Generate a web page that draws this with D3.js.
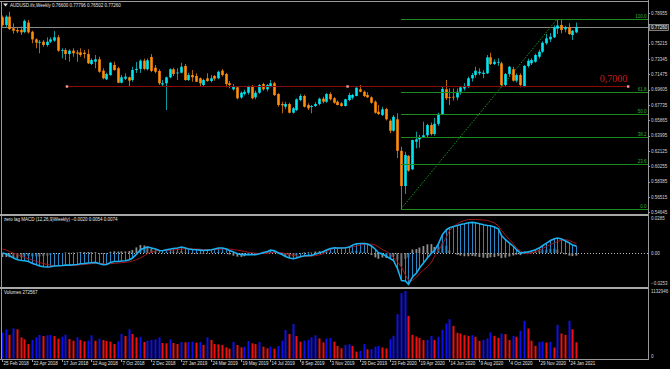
<!DOCTYPE html>
<html><head><meta charset="utf-8">
<script src="https://cdn.jsdelivr.net/npm/d3@7"></script>
<style>html,body{margin:0;padding:0;background:#000;overflow:hidden}</style>
</head><body><svg id="c" width="670" height="369"></svg>
<script>
// ---------------- DATA ----------------
const symbolTitle = "AUDUSD.ifx,Weekly";
const firstWeek = "2018-02-25";
const lastWeek = "2021-02-07";
const open = [
0.7844,0.7750,0.7852,0.7710,0.7690,0.7690,0.7665,0.7780,0.7668,0.7575,
0.7534,0.7546,0.7506,0.7546,0.7560,0.7600,0.7437,0.7445,0.7396,0.7437,
0.7415,0.7417,0.7412,0.7396,0.7274,0.7302,0.7332,0.7193,0.7088,0.7140,
0.7262,0.7222,0.7046,0.7095,0.7112,0.7079,0.7201,0.7215,0.7315,0.7210,
0.7360,0.7229,0.7189,0.7025,0.7039,0.7112,0.7210,0.7160,0.7168,0.7250,
0.7079,0.7140,0.7128,0.7100,0.7018,0.7100,0.7067,0.7128,0.7100,0.7193,
0.7152,0.7039,0.6965,0.6990,0.6865,0.6910,0.6924,0.7006,0.6868,0.6924,
0.7030,0.6966,0.7006,0.7039,0.6908,0.6786,0.6753,0.6786,0.6680,0.6713,
0.6835,0.6884,0.6774,0.6750,0.6762,0.6786,0.6851,0.6814,0.6908,0.6856,
0.6814,0.6795,0.6762,0.6835,0.6863,0.6884,0.6966,0.6936,0.6896,0.6868,
0.6814,0.6692,0.6652,0.6725,0.6583,0.6460,0.6600,0.6215,0.5786,0.6152,
0.5990,0.6326,0.6355,0.6375,0.6405,0.6530,0.6420,0.6545,0.6665,0.6966,
0.6870,0.6875,0.6865,0.6936,0.6975,0.7000,0.7100,0.7140,0.7161,0.7152,
0.7161,0.7356,0.7274,0.7290,0.7283,0.7018,0.7152,0.7210,0.7071,0.7140,
0.7006,0.7250,0.7283,0.7302,0.7363,0.7424,0.7527,0.7575,0.7600,0.7705,
0.7750,0.7697,0.7722,0.7628,0.76600];
const high = [
0.7865,0.7870,0.7912,0.7770,0.7720,0.7730,0.7815,0.7812,0.7680,0.7588,
0.7567,0.7567,0.7600,0.7600,0.7677,0.7628,0.7466,0.7466,0.7454,0.7466,
0.7445,0.7466,0.7445,0.7454,0.7344,0.7384,0.7363,0.7222,0.7168,0.7300,
0.7302,0.7240,0.7140,0.7161,0.7120,0.7241,0.7300,0.7330,0.7340,0.7340,
0.7395,0.7262,0.7210,0.7079,0.7120,0.7222,0.7229,0.7222,0.7290,0.7274,
0.7168,0.7201,0.7161,0.7110,0.7095,0.7161,0.7140,0.7140,0.7193,0.7213,
0.7165,0.7067,0.7030,0.7000,0.6940,0.6960,0.7010,0.7018,0.6949,0.7030,
0.7046,0.7030,0.7079,0.7058,0.6920,0.6814,0.6814,0.6802,0.6750,0.6855,
0.6908,0.6900,0.6795,0.6774,0.6810,0.6865,0.6875,0.6920,0.6930,0.6870,
0.6830,0.6810,0.6850,0.6924,0.6910,0.6990,0.7018,0.6950,0.6930,0.6880,
0.6830,0.6774,0.6753,0.6740,0.6600,0.6652,0.6673,0.6265,0.6204,0.6164,
0.6350,0.6448,0.6410,0.6570,0.6545,0.6560,0.6617,0.6680,0.6994,0.7079,
0.6978,0.6975,0.6976,0.7000,0.7040,0.7120,0.7165,0.7242,0.7222,0.7200,
0.7384,0.7412,0.7332,0.7344,0.7302,0.7165,0.7250,0.7240,0.7160,0.7160,
0.7262,0.7340,0.7344,0.7400,0.7450,0.7550,0.7640,0.7652,0.7745,0.7820,
0.7811,0.7740,0.7771,0.7690,0.77796];
const low = [
0.7730,0.7720,0.7690,0.7645,0.7650,0.7628,0.7650,0.7645,0.7527,0.7466,
0.7405,0.7485,0.7485,0.7530,0.7545,0.7424,0.7344,0.7323,0.7302,0.7363,
0.7302,0.7363,0.7344,0.7274,0.7262,0.7222,0.7168,0.7088,0.7079,0.7130,
0.7193,0.7040,0.7039,0.7079,0.7006,0.7058,0.7165,0.7165,0.7200,0.7195,
0.7175,0.7161,0.7018,0.7006,0.6713,0.7100,0.7128,0.7079,0.7161,0.7071,
0.7067,0.7058,0.7055,0.6997,0.7000,0.7058,0.7050,0.7070,0.7088,0.7120,
0.6990,0.6978,0.6950,0.6844,0.6850,0.6890,0.6900,0.6844,0.6844,0.6910,
0.6949,0.6940,0.6990,0.6884,0.6753,0.6673,0.6722,0.6673,0.6670,0.6700,
0.6820,0.6745,0.6713,0.6673,0.6750,0.6770,0.6795,0.6800,0.6830,0.6790,
0.6770,0.6755,0.6755,0.6820,0.6840,0.6880,0.6930,0.6870,0.6860,0.6790,
0.6670,0.6652,0.6640,0.6585,0.6429,0.6449,0.6128,0.5506,0.5688,0.5960,
0.5980,0.6246,0.6253,0.6370,0.6372,0.6402,0.6400,0.6520,0.6650,0.6835,
0.6774,0.6829,0.6833,0.6900,0.6950,0.6980,0.7060,0.7110,0.7140,0.7100,
0.7152,0.7262,0.7262,0.7250,0.6990,0.7000,0.7120,0.7060,0.7050,0.6990,
0.6990,0.7230,0.7262,0.7290,0.7340,0.7410,0.7510,0.7543,0.7590,0.7640,
0.7649,0.7660,0.7628,0.7567,0.76502];
const close = [
0.7750,0.7852,0.7701,0.7680,0.7672,0.7660,0.7800,0.7660,0.7575,0.7534,
0.7545,0.7506,0.7546,0.7575,0.7600,0.7437,0.7445,0.7396,0.7437,0.7405,
0.7400,0.7384,0.7396,0.7283,0.7323,0.7332,0.7180,0.7100,0.7152,0.7290,
0.7201,0.7046,0.7112,0.7120,0.7071,0.7201,0.7215,0.7315,0.7215,0.7320,
0.7190,0.7180,0.7039,0.7040,0.7112,0.7210,0.7152,0.7170,0.7241,0.7079,
0.7140,0.7112,0.7058,0.7039,0.7079,0.7067,0.7100,0.7095,0.7180,0.7140,
0.7030,0.7018,0.7005,0.6856,0.6925,0.6935,0.6997,0.6856,0.6924,0.7018,
0.6966,0.7018,0.7039,0.6896,0.6774,0.6770,0.6786,0.6680,0.6734,0.6844,
0.6884,0.6753,0.6734,0.6762,0.6786,0.6851,0.6814,0.6908,0.6844,0.6802,
0.6774,0.6762,0.6844,0.6896,0.6896,0.6985,0.6936,0.6884,0.6868,0.6802,
0.6680,0.6664,0.6722,0.6600,0.6460,0.6631,0.6215,0.5786,0.6164,0.5973,
0.6347,0.6355,0.6380,0.6405,0.6530,0.6420,0.6545,0.6665,0.6970,0.6856,
0.6860,0.6865,0.6936,0.6990,0.7006,0.7100,0.7140,0.7193,0.7180,0.7168,
0.7356,0.7274,0.7302,0.7300,0.7018,0.7152,0.7241,0.7071,0.7140,0.7018,
0.7250,0.7314,0.7323,0.7384,0.7424,0.7534,0.7588,0.7607,0.7720,0.7745,
0.7689,0.7722,0.7640,0.7680,0.77260];
const volume = [
434000,490000,395000,506000,490000,355000,322000,243000,311000,355000,
395000,378000,389000,395000,378000,333000,366000,400000,327000,299000,
355000,311000,288000,299000,389000,299000,333000,311000,294000,283000,
243000,288000,411000,378000,490000,411000,355000,366000,277000,299000,
311000,322000,355000,260000,255000,322000,260000,243000,277000,271000,
277000,283000,266000,277000,227000,355000,311000,243000,238000,227000,
187000,165000,277000,227000,187000,199000,294000,255000,243000,277000,
199000,171000,199000,165000,210000,299000,478000,411000,579000,378000,
283000,299000,311000,355000,389000,338000,271000,338000,344000,283000,
210000,171000,227000,238000,210000,115000,126000,243000,154000,159000,
199000,210000,185000,168000,325000,381000,744000,1097000,1132946,716000,
397000,369000,347000,308000,313000,380000,313000,364000,481000,587000,
660000,548000,431000,420000,392000,380000,392000,364000,297000,313000,
336000,436000,380000,347000,420000,408000,308000,380000,364000,464000,
632000,504000,297000,213000,280000,285000,269000,280000,185000,565000,
420000,397000,632000,492000,272567];
const macdMain = [
0.0000,-0.0008,-0.0021,-0.0039,-0.0052,-0.0058,-0.0060,-0.0066,-0.0081,-0.0091,
-0.0101,-0.0107,-0.0109,-0.0107,-0.0101,-0.0099,-0.0097,-0.0094,-0.0094,-0.0091,
-0.0089,-0.0083,-0.0081,-0.0078,-0.0076,-0.0073,-0.0083,-0.0091,-0.0089,-0.0073,
-0.0066,-0.0066,-0.0062,-0.0060,-0.0052,-0.0039,-0.0008,0.0026,0.0039,0.0047,
0.0039,0.0031,0.0020,0.0018,0.0026,0.0031,0.0036,0.0039,0.0047,0.0039,
0.0031,0.0028,0.0026,0.0023,0.0020,0.0023,0.0026,0.0031,0.0039,0.0039,
0.0031,0.0020,0.0008,-0.0005,-0.0013,-0.0013,-0.0011,-0.0013,-0.0013,-0.0005,
0.0005,0.0012,0.0023,0.0018,0.0000,-0.0013,-0.0027,-0.0039,-0.0044,-0.0039,
-0.0029,-0.0021,-0.0019,-0.0019,-0.0008,0.0000,0.0012,0.0023,0.0035,0.0041,
0.0039,0.0039,0.0041,0.0047,0.0062,0.0073,0.0075,0.0075,0.0070,0.0055,
0.0028,0.0002,-0.0008,-0.0027,-0.0044,-0.0058,-0.0122,-0.0214,-0.0218,-0.0245,
-0.0187,-0.0156,-0.0117,-0.0078,-0.0037,0.0000,0.0020,0.0073,0.0145,0.0182,
0.0197,0.0207,0.0215,0.0223,0.0229,0.0236,0.0239,0.0236,0.0229,0.0221,
0.0215,0.0213,0.0203,0.0187,0.0137,0.0104,0.0078,0.0051,0.0026,0.0000,
0.0005,0.0010,0.0016,0.0026,0.0041,0.0057,0.0078,0.0098,0.0112,0.0117,
0.0109,0.0094,0.0078,0.0062,0.0054];
const macdSignal = [
0.0031,0.0023,0.0012,0.0000,-0.0012,-0.0023,-0.0035,-0.0044,-0.0055,-0.0065,
-0.0074,-0.0082,-0.0089,-0.0094,-0.0097,-0.0098,-0.0098,-0.0098,-0.0097,-0.0095,
-0.0094,-0.0091,-0.0089,-0.0086,-0.0083,-0.0080,-0.0081,-0.0083,-0.0086,-0.0083,
-0.0080,-0.0078,-0.0075,-0.0072,-0.0068,-0.0062,-0.0052,-0.0037,-0.0020,-0.0004,
0.0008,0.0016,0.0019,0.0020,0.0020,0.0022,0.0024,0.0027,0.0031,0.0034,
0.0034,0.0033,0.0031,0.0030,0.0027,0.0026,0.0026,0.0027,0.0029,0.0031,
0.0032,0.0031,0.0028,0.0023,0.0017,0.0012,0.0006,0.0002,-0.0002,-0.0004,
-0.0004,-0.0002,0.0002,0.0005,0.0005,0.0002,-0.0004,-0.0011,-0.0018,-0.0023,
-0.0026,-0.0026,-0.0025,-0.0023,-0.0020,-0.0014,-0.0004,0.0012,0.0027,0.0036,
0.0039,0.0039,0.0041,0.0043,0.0047,0.0055,0.0062,0.0067,0.0070,0.0070,
0.0062,0.0047,0.0027,0.0012,-0.0012,-0.0035,-0.0070,-0.0109,-0.0172,-0.0211,
-0.0215,-0.0187,-0.0160,-0.0133,-0.0105,-0.0070,-0.0027,0.0023,0.0070,0.0125,
0.0176,0.0207,0.0229,0.0243,0.0254,0.0261,0.0262,0.0262,0.0260,0.0257,
0.0254,0.0246,0.0234,0.0211,0.0176,0.0140,0.0105,0.0070,0.0039,0.0016,
-0.0004,-0.0004,0.0000,0.0012,0.0023,0.0035,0.0051,0.0066,0.0078,0.0090,
0.0101,0.0104,0.0098,0.0086,0.0074];
const dateTickLabels = ["25 Feb 2018","22 Apr 2018","17 Jun 2018","12 Aug 2018","7 Oct 2018",
"2 Dec 2018","27 Jan 2019","24 Mar 2019","19 May 2019","14 Jul 2019","8 Sep 2019","3 Nov 2019",
"29 Dec 2019","23 Feb 2020","19 Apr 2020","14 Jun 2020","9 Aug 2020","4 Oct 2020","29 Nov 2020","24 Jan 2021"];
const priceTicks = [0.78955,0.75215,0.73345,0.71475,0.69605,0.67735,0.65865,0.63995,0.62125,0.60255,0.58385,0.56515,0.54645];
const fibLevels = [0.0,23.6,38.2,50.0,61.8,100.0];
const levelValue = 0.7000;
const levelLabel = "0,7000";
const levelAnchors = ["2018-06-27","2021-05-16"];
const macdTitle = "zero lag MACD (12,26,9)Weekly)";
const macdRange = [-0.0253, 0.0285];
const priceRange = [0.5457, 0.8055];

// ---------------- SETUP ----------------
const W = 670, H = 369, AX = 648;
const svg = d3.select("#c");
svg.append("rect").attr("width", W).attr("height", H).attr("fill", "#000");
const parseISO = d3.utcParse("%Y-%m-%d");
const dates = d3.utcWeek.range(parseISO(firstWeek), d3.utcDay.offset(parseISO(lastWeek), 1));
const N = dates.length;
const x = d3.scaleUtc().domain([dates[0], dates[N - 1]]).range([2, 576]);
const yP = d3.scaleLinear().domain(priceRange).range([213, 0]);
const yM = d3.scaleLinear().domain(macdRange).range([285.5, 216.5]);
const yV = d3.scaleLinear().domain([0, d3.max(volume)]).range([358.5, 291]);
const bx = i => Math.round(x(dates[i]));
const FONT = "'Liberation Sans', Arial, sans-serif";
const fmt5 = d3.format(".5f"), fmt4 = d3.format(".4f");

const defs = svg.append("defs");
function clip(id, y0, y1) {
  defs.append("clipPath").attr("id", id).append("rect").attr("x", 2).attr("y", y0).attr("width", AX - 2).attr("height", y1 - y0);
}
clip("cMain", 2, 214); clip("cMacd", 216, 287); clip("cVol", 289, 359);

// ---------------- MAIN PANEL ----------------
const main = svg.append("g").attr("clip-path", "url(#cMain)");
const last = N - 1;
// bid line
const bidY = Math.round(yP(close[last])) + 0.5;
main.append("line").attr("x1", 2).attr("x2", AX).attr("y1", bidY).attr("y2", bidY).attr("stroke", "#8a8a8a").attr("stroke-width", 1);

// fibonacci
const iLow = d3.minIndex(low);
const iHigh = iLow + d3.maxIndex(high.slice(iLow));
const fLow = low[iLow], fHigh = high[iHigh];
const fx0 = bx(iLow);
const fib = svg.append("g");
fibLevels.forEach(lv => {
  const yy = Math.round(yP(fLow + (fHigh - fLow) * lv / 100)) + 0.5;
  fib.append("line").attr("x1", fx0).attr("x2", AX).attr("y1", yy).attr("y2", yy).attr("stroke", "#1b8c1b").attr("stroke-width", 1);
  fib.append("text").attr("x", 646.5).attr("y", yy - 1.2).attr("text-anchor", "end")
    .attr("font-family", FONT).attr("font-size", 4.5).attr("fill", "#2fae2f").text(lv.toFixed(1));
});
main.append("line").attr("x1", fx0).attr("y1", yP(fLow)).attr("x2", bx(iHigh)).attr("y2", yP(fHigh))
  .attr("stroke", "#1d9a1d").attr("stroke-width", 1).attr("stroke-dasharray", "1.5,1.5");

// horizontal level (trend line)
const lx0 = x(parseISO(levelAnchors[0])), lx1 = x(parseISO(levelAnchors[1]));
const ly = Math.round(yP(levelValue)) + 0.5;
svg.append("line").attr("x1", lx0).attr("x2", lx1).attr("y1", ly).attr("y2", ly).attr("stroke", "#8b0a0a").attr("stroke-width", 1);
[lx0, (lx0 + lx1) / 2, lx1].forEach(px => {
  svg.append("rect").attr("x", px - 1.2).attr("y", ly - 1.2).attr("width", 2.4).attr("height", 2.4).attr("fill", "#ff9a9a");
});
svg.append("text").attr("x", lx1 - 1).attr("y", ly - 4.3).attr("text-anchor", "end")
  .attr("font-family", "'Liberation Serif', 'Times New Roman', serif").attr("font-size", 10).attr("fill", "#c81a1a").text(levelLabel);

// candles
const cg = main.append("g");
for (let i = 0; i < N; i++) {
  const up = close[i] >= open[i];
  const cx = bx(i);
  cg.append("line").attr("x1", cx + 0.5).attr("x2", cx + 0.5).attr("y1", yP(high[i])).attr("y2", yP(low[i]))
    .attr("stroke", up ? "#0b9a9e" : "#b8650c").attr("stroke-width", 1);
  const yt = yP(Math.max(open[i], close[i])), yb = yP(Math.min(open[i], close[i]));
  cg.append("rect").attr("x", cx - 0.8).attr("width", 2.6).attr("y", yt).attr("height", Math.max(0.8, yb - yt))
    .attr("fill", up ? "#00e6f2" : "#ff8c0a");
}

// ---------------- MACD PANEL ----------------
const mg = svg.append("g").attr("clip-path", "url(#cMacd)");
const y0m = yM(0);
mg.append("line").attr("x1", 2).attr("x2", AX).attr("y1", Math.round(y0m) + 0.5).attr("y2", Math.round(y0m) + 0.5)
  .attr("stroke", "#bdbdbd").attr("stroke-width", 1).attr("stroke-dasharray", "1,2");
for (let i = 0; i < N; i++) {
  const d = macdMain[i] - macdSignal[i];
  const a = yM(d);
  mg.append("rect").attr("x", bx(i) - 0.5).attr("width", 1.8).attr("y", Math.min(a, y0m)).attr("height", Math.abs(a - y0m))
    .attr("fill", "#8e8e8e");
  mg.append("line").attr("x1", bx(i) + 0.5).attr("x2", bx(i) + 0.5).attr("y1", y0m).attr("y2", yM(macdMain[i]))
    .attr("stroke", "#2a86c4").attr("stroke-width", 1);
}
const lineGen = arr => d3.line().x((d, i) => bx(i) + 0.5).y(d => yM(d))(arr);
mg.append("path").attr("d", lineGen(macdSignal)).attr("fill", "none").attr("stroke", "#a3161c").attr("stroke-width", 1);
mg.append("path").attr("d", lineGen(macdMain)).attr("fill", "none").attr("stroke", "#1bb0ef").attr("stroke-width", 1.6);

// ---------------- VOLUME PANEL ----------------
const vg = svg.append("g").attr("clip-path", "url(#cVol)");
for (let i = 0; i < N; i++) {
  const upv = i === 0 || volume[i] > volume[i - 1];
  const t = yV(volume[i]);
  vg.append("rect").attr("x", bx(i) - 0.5).attr("width", 2).attr("y", t).attr("height", yV(0) - t)
    .attr("fill", upv ? "#1010e8" : "#ee1010");
}

// ---------------- FRAMES ----------------
const fr = svg.append("g");
fr.append("line").attr("x1", 0).attr("x2", AX).attr("y1", 1.5).attr("y2", 1.5).attr("stroke", "#9a9a9a");
fr.append("line").attr("x1", 1.5).attr("x2", 1.5).attr("y1", 1).attr("y2", 359.5).attr("stroke", "#9a9a9a");
fr.append("rect").attr("x", 0).attr("y", 214).attr("width", AX + 1).attr("height", 2).attr("fill", "#a8a8a8");
fr.append("rect").attr("x", 0).attr("y", 287).attr("width", AX + 1).attr("height", 2).attr("fill", "#a8a8a8");
fr.append("line").attr("x1", AX + 0.5).attr("x2", AX + 0.5).attr("y1", 0).attr("y2", 360).attr("stroke", "#9a9a9a");
fr.append("line").attr("x1", 0).attr("x2", AX + 1).attr("y1", 359.5).attr("y2", 359.5).attr("stroke", "#9a9a9a");

// ---------------- TEXTS & AXES ----------------
const txt = (xx, yy, s, opt = {}) => svg.append("text").attr("x", xx).attr("y", yy)
  .attr("font-family", FONT).attr("font-size", opt.size || 4.5).attr("fill", opt.fill || "#e6e6e6")
  .attr("text-anchor", opt.anchor || "start").text(s);

// title
svg.append("path").attr("d", "M3,3.5 L8,3.5 L5.5,6.5 Z").attr("fill", "#e0e0e0");
txt(10, 6.8, symbolTitle + "  " + [open[last], high[last], low[last], close[last]].map(fmt5).join(" "));

// price axis
priceTicks.forEach(p => {
  const yy = yP(p);
  svg.append("line").attr("x1", AX).attr("x2", AX + 2).attr("y1", Math.round(yy) + 0.5).attr("y2", Math.round(yy) + 0.5).attr("stroke", "#9a9a9a");
  txt(651, yy + 1.6, fmt5(p), { fill: "#d4d4d4" });
});
// bid label
svg.append("rect").attr("x", 649.5).attr("y", bidY - 3).attr("width", 19).attr("height", 6)
  .attr("fill", "#1a1a1a").attr("stroke", "#b0b0b0").attr("stroke-width", 0.7);
txt(651, bidY + 1.6, fmt5(close[last]), { fill: "#ffffff" });

// macd labels
const lastDiff = macdMain[last] - macdSignal[last];
txt(4, 221, macdTitle + " " + [lastDiff, macdMain[last], macdSignal[last]].map(fmt4).join(" "));
txt(651, yM(macdRange[1]) + 3.2, fmt4(macdRange[1]), { fill: "#d4d4d4" });
txt(651, y0m + 1.6, "0.00", { fill: "#d4d4d4" });
txt(651, yM(macdRange[0]) - 0.2, fmt4(macdRange[0]), { fill: "#d4d4d4" });

// volume labels
txt(4, 294, "Volumes " + volume[last]);
txt(651, yV(d3.max(volume)) + 1.6, String(d3.max(volume)), { fill: "#d4d4d4" });
txt(651, yV(0) - 1, "0", { fill: "#d4d4d4" });

// date axis
const parseTick = d3.utcParse("%e %b %Y");
dateTickLabels.forEach(s => {
  const xx = Math.round(x(parseTick(s))) + 0.5;
  svg.append("line").attr("x1", xx).attr("x2", xx).attr("y1", 359.5).attr("y2", 362).attr("stroke", "#9a9a9a");
  txt(xx + 1, 365.3, s, { fill: "#e0e0e0" });
});
</script>
</body></html>
